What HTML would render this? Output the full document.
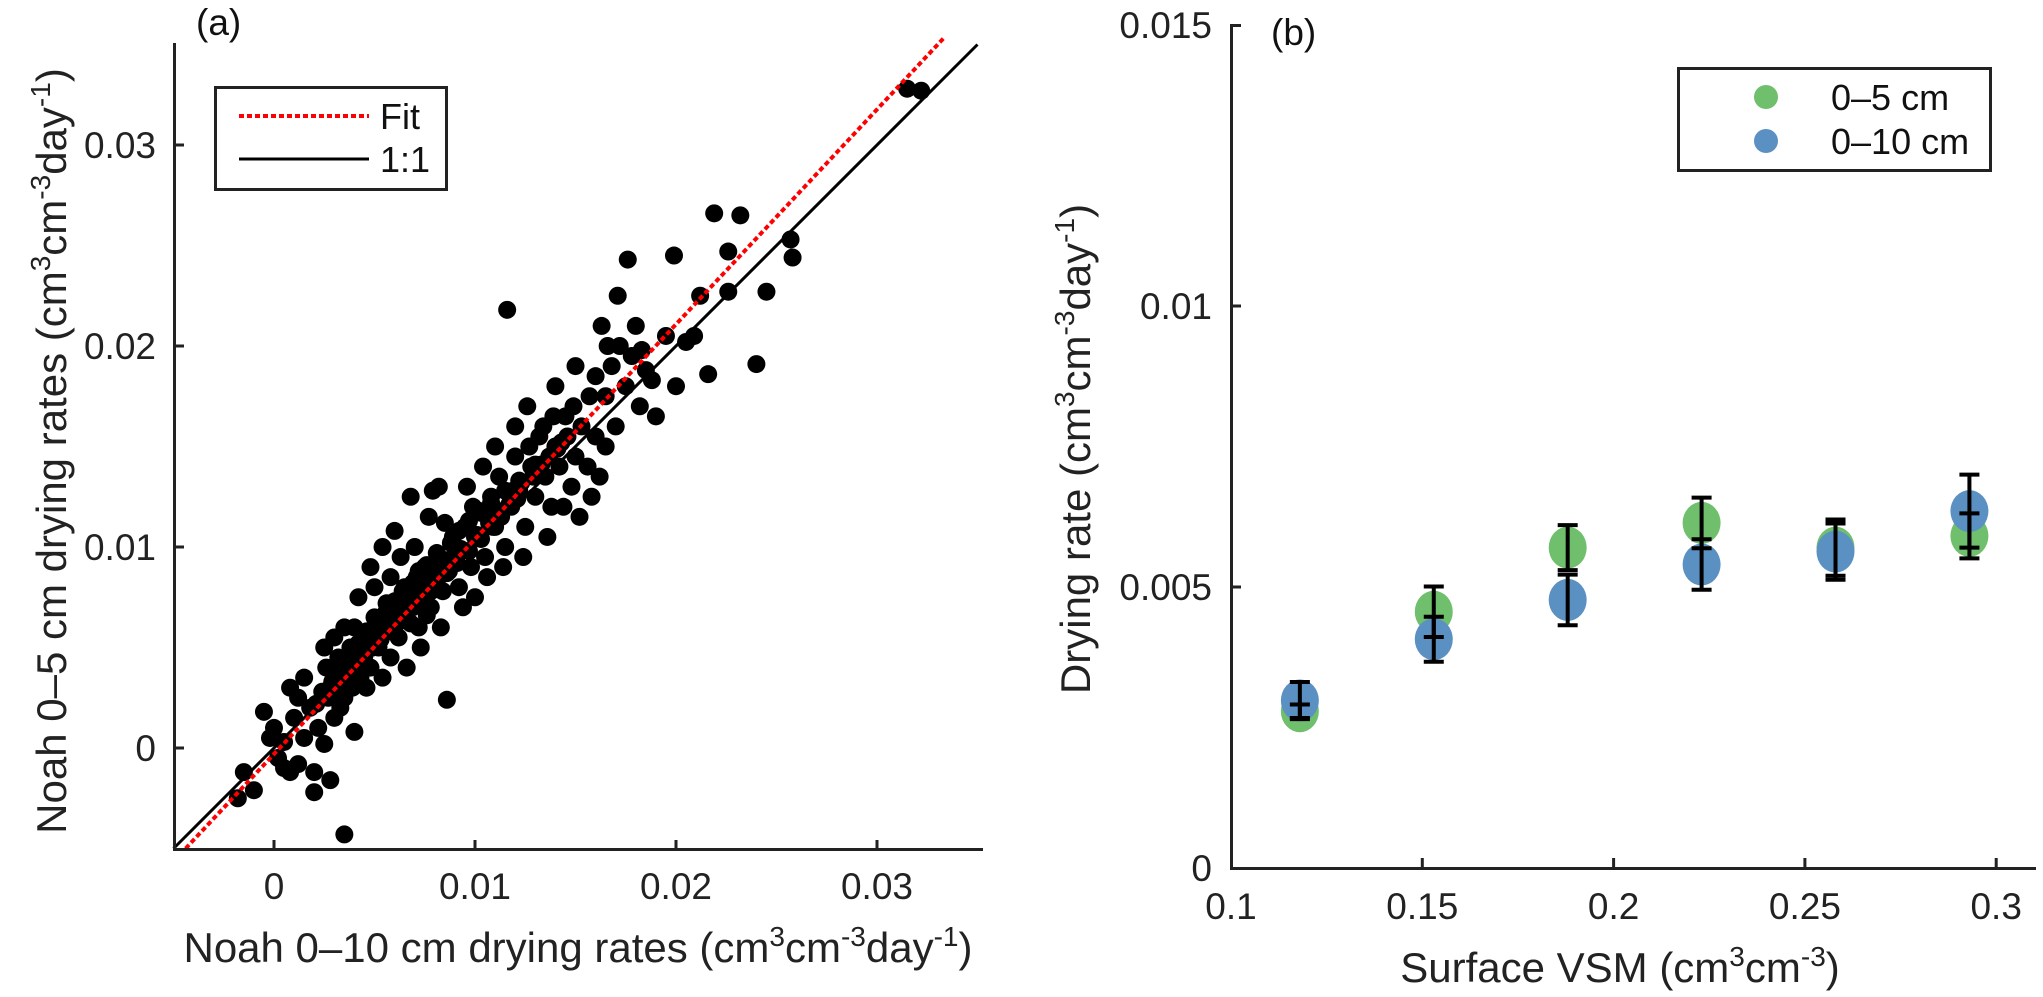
<!DOCTYPE html>
<html><head><meta charset="utf-8"><style>
html,body{margin:0;padding:0;background:#fff}
svg{display:block;font-family:"Liberation Sans",Arial,sans-serif}
</style></head><body>
<svg id="fig" width="2043" height="997" viewBox="0 0 2043 997"></svg>
<script>
// Panel (a) data: [x (0-10cm), y (0-5cm)]
const scatterX = [-0.0018,-0.0015,-0.0010,-0.0005,0.0000,0.0002,0.0005,0.0008,0.0010,0.0012,0.0015,0.0018,0.0020,0.0022,0.0025,0.0028,0.0030,0.0032,0.0035,0.0020,0.0028,0.0005,-0.0002,0.0012,0.0008,0.0015,0.0035,0.0038,0.0040,0.0043,
0.0045,0.0048,0.0050,0.0052,0.0055,0.0058,0.0060,0.0062,0.0065,0.0068,0.0070,0.0072,0.0075,0.0078,0.0080,0.0040,0.0042,0.0046,0.0054,0.0058,0.0063,0.0066,0.0070,0.0073,0.0077,0.0079,0.0083,0.0086,0.0030,0.0025,0.0035,0.0038,0.0044,0.0050,0.0056,0.0061,0.0067,0.0071,0.0074,0.0076,0.0082,0.0084,0.0087,0.0089,0.0054,0.0060,0.0068,0.0082,0.0085,0.0048,0.0039,0.0033,0.0026,
0.0090,0.0092,0.0095,0.0098,0.0100,0.0102,0.0105,0.0108,0.0110,0.0112,0.0115,0.0118,0.0120,0.0122,0.0125,0.0128,0.0130,0.0132,0.0135,0.0138,0.0140,0.0142,0.0145,0.0148,0.0150,0.0153,0.0156,0.0160,0.0096,0.0104,0.0110,0.0116,0.0120,0.0126,0.0134,0.0140,0.0146,0.0094,0.0100,0.0106,0.0114,0.0124,0.0136,0.0144,0.0152,0.0158,0.0162,0.0165,0.0099,0.0113,0.0127,0.0139,0.0149,0.0157,
0.0165,0.0168,0.0170,0.0172,0.0175,0.0176,0.0178,0.0180,0.0182,0.0185,0.0188,0.0190,0.0195,0.0199,0.0200,0.0205,0.0209,0.0212,0.0216,0.0219,0.0226,0.0226,0.0232,0.0240,0.0245,0.0257,0.0258,0.0315,0.0322,0.0160,0.0166,0.0150,0.0163,0.0171,0.0183,
0.0021,0.0024,0.0027,0.0029,0.0031,0.0034,0.0036,0.0037,0.0041,0.0043,0.0045,0.0047,0.0049,0.0051,0.0053,0.0055,0.0057,0.0059,0.0061,0.0063,0.0064,0.0066,0.0069,0.0071,0.0073,0.0075,0.0078,0.0080,0.0081,0.0083,0.0086,0.0088,0.0091,0.0093,0.0097,0.0101,0.0103,0.0107,0.0109,0.0111,0.0117,0.0119,0.0121,0.0123,0.0129,0.0131,0.0133,0.0137,0.0141,0.0143,
0.0032,0.0036,0.0042,0.0046,0.0052,0.0056,0.0060,0.0064,0.0069,0.0072,0.0076,0.0081,0.0088,0.0092,0.0097,0.0103,0.0108,0.0115,0.0122,0.0130];
const scatterY = [-0.0025,-0.0012,-0.0021,0.0018,0.0010,-0.0005,0.0003,-0.0012,0.0015,-0.0008,0.0005,0.0020,-0.0012,0.0010,0.0002,0.0030,0.0015,0.0045,-0.0043,-0.0022,-0.0016,-0.0010,0.0005,0.0025,0.0030,0.0035,0.0025,0.0040,0.0008,0.0035,
0.0055,0.0040,0.0065,0.0050,0.0060,0.0045,0.0070,0.0055,0.0080,0.0062,0.0075,0.0060,0.0090,0.0070,0.0085,0.0060,0.0075,0.0030,0.0035,0.0085,0.0095,0.0040,0.0100,0.0050,0.0115,0.0128,0.0060,0.0024,0.0055,0.0050,0.0060,0.0050,0.0048,0.0080,0.0072,0.0064,0.0071,0.0085,0.0078,0.0066,0.0095,0.0078,0.0088,0.0105,0.0100,0.0108,0.0125,0.0130,0.0112,0.0090,0.0030,0.0020,0.0040,
0.0095,0.0080,0.0110,0.0090,0.0105,0.0118,0.0095,0.0125,0.0110,0.0135,0.0100,0.0120,0.0145,0.0128,0.0110,0.0140,0.0125,0.0155,0.0135,0.0120,0.0150,0.0140,0.0165,0.0130,0.0145,0.0160,0.0140,0.0155,0.0130,0.0140,0.0150,0.0218,0.0160,0.0170,0.0160,0.0180,0.0155,0.0070,0.0075,0.0085,0.0090,0.0095,0.0105,0.0120,0.0115,0.0125,0.0135,0.0150,0.0120,0.0115,0.0150,0.0165,0.0170,0.0175,
0.0175,0.0190,0.0160,0.0200,0.0180,0.0243,0.0195,0.0210,0.0170,0.0188,0.0183,0.0165,0.0205,0.0245,0.0180,0.0202,0.0205,0.0225,0.0186,0.0266,0.0247,0.0227,0.0265,0.0191,0.0227,0.0253,0.0244,0.0328,0.0327,0.0185,0.0200,0.0190,0.0210,0.0225,0.0198,
0.0022,0.0028,0.0025,0.0033,0.0030,0.0038,0.0035,0.0044,0.0042,0.0048,0.0046,0.0052,0.0050,0.0057,0.0054,0.0061,0.0058,0.0065,0.0062,0.0068,0.0066,0.0072,0.0070,0.0077,0.0074,0.0081,0.0078,0.0086,0.0083,0.0089,0.0087,0.0094,0.0092,0.0099,0.0098,0.0106,0.0104,0.0112,0.0110,0.0118,0.0121,0.0128,0.0124,0.0132,0.0135,0.0139,0.0141,0.0145,0.0149,0.0152,
0.0040,0.0045,0.0052,0.0058,0.0062,0.0068,0.0073,0.0078,0.0082,0.0088,0.0091,0.0097,0.0102,0.0108,0.0113,0.0117,0.0122,0.0128,0.0133,0.0141];
const fitSlope = 1.069;
const fitIntercept = -0.0003;
const aXTicks = [0, 0.01, 0.02, 0.03];
const aXTickLabels = ["0","0.01","0.02","0.03"];
const aYTicks = [0, 0.01, 0.02, 0.03];
const aYTickLabels = ["0","0.01","0.02","0.03"];

// Panel (b) data
const vsmX = [0.118, 0.153, 0.188, 0.223, 0.258, 0.293];
const rate05 = [0.00279, 0.00456, 0.00570, 0.00614, 0.00570, 0.00591];
const err05 = [0.00012, 0.00045, 0.00040, 0.00045, 0.00050, 0.00040];
const rate010 = [0.00298, 0.00407, 0.00477, 0.00540, 0.00563, 0.00635];
const err010 = [0.00033, 0.00040, 0.00045, 0.00045, 0.00050, 0.00065];
const bXTicks = [0.1, 0.15, 0.2, 0.25, 0.3];
const bXTickLabels = ["0.1","0.15","0.2","0.25","0.3"];
const bYTicks = [0, 0.005, 0.01, 0.015];
const bYTickLabels = ["0","0.005","0.01","0.015"];

const NS = "http://www.w3.org/2000/svg";
const svg = document.getElementById('fig');
function mk(tag, attrs, parent){ const e=document.createElementNS(NS,tag); for(const k in attrs) e.setAttribute(k,attrs[k]); (parent||svg).appendChild(e); return e; }

const ax = v => 274 + (v/0.005)*100.5;
const ay = v => 748 - (v/0.005)*100.5;
const bx = v => 1231 + (v-0.1)/0.05*191.3;
const by = v => 868 - v/0.015*843;

// ---- Panel a ----
const ga = mk('g',{});


const pts = mk('g',{fill:'#000'},ga);


for(let i=0;i<scatterX.length;i++){
  const c = mk('circle',{cx:ax(scatterX[i]),cy:ay(scatterY[i]),r:9},pts);
  
  
}
const l11 = mk('line',{x1:ax(-0.005),y1:ay(-0.005),x2:ax(0.035),y2:ay(0.035),stroke:'#000','stroke-width':3},ga);


const fx0 = (-0.005 - fitIntercept)/fitSlope, fx1 = (0.0353 - fitIntercept)/fitSlope;
const lf = mk('line',{x1:ax(fx0),y1:ay(fitSlope*fx0+fitIntercept),x2:ax(fx1),y2:ay(fitSlope*fx1+fitIntercept),stroke:'#f00','stroke-width':4,'stroke-dasharray':'5 3'},ga);


const axa = mk('path',{d:`M174.5 43 V849.5 H983`,fill:'none',stroke:'#222','stroke-width':3},ga);


aXTicks.forEach((t,i)=>{
  mk('line',{x1:ax(t),y1:849,x2:ax(t),y2:840,stroke:'#222','stroke-width':3},ga);
  const tx = mk('text',{x:ax(t),y:899,'font-size':37,'text-anchor':'middle',fill:'#222'},ga);
  tx.textContent = aXTickLabels[i];
  
  
});
aYTicks.forEach((t,i)=>{
  mk('line',{x1:175,y1:ay(t),x2:184,y2:ay(t),stroke:'#222','stroke-width':3},ga);
  const tx = mk('text',{x:156,y:ay(t)+13,'font-size':37,'text-anchor':'end',fill:'#222'},ga);
  tx.textContent = aYTickLabels[i];
  
  
});
</script>
<script>
(function(){
svg.insertAdjacentHTML('beforeend', `
<text x="196" y="35" font-size="37" fill="#111">(a)</text>
<g>
<rect x="215.5" y="87.5" width="231" height="102" fill="#fff" stroke="#222" stroke-width="3"/>
<line x1="239" y1="116" x2="369" y2="116" stroke="#f00" stroke-width="4" stroke-dasharray="5 3"/>
<text x="380" y="129" font-size="36" fill="#111">Fit</text>
<line x1="239" y1="159" x2="369" y2="159" stroke="#000" stroke-width="3"/>
<text x="380" y="172" font-size="36" fill="#111">1:1</text>
</g>
<text x="578" y="962" font-size="42" fill="#222" text-anchor="middle">Noah 0–10 cm drying rates (cm<tspan dy="-16" font-size="28">3</tspan><tspan dy="16">cm</tspan><tspan dy="-16" font-size="28">-3</tspan><tspan dy="16">day</tspan><tspan dy="-16" font-size="28">-1</tspan><tspan dy="16">)</tspan></text>
<text transform="translate(66,451) rotate(-90)" font-size="42" fill="#222" text-anchor="middle">Noah 0–5 cm drying rates (cm<tspan dy="-16" font-size="28">3</tspan><tspan dy="16">cm</tspan><tspan dy="-16" font-size="28">-3</tspan><tspan dy="16">day</tspan><tspan dy="-16" font-size="28">-1</tspan><tspan dy="16">)</tspan></text>
<text x="1271" y="45" font-size="37" fill="#111">(b)</text>
<text x="1620" y="982" font-size="42" fill="#222" text-anchor="middle">Surface VSM (cm<tspan dy="-16" font-size="28">3</tspan><tspan dy="16">cm</tspan><tspan dy="-16" font-size="28">-3</tspan><tspan dy="16">)</tspan></text>
<text transform="translate(1090,449) rotate(-90)" font-size="42" fill="#222" text-anchor="middle">Drying rate (cm<tspan dy="-16" font-size="28">3</tspan><tspan dy="16">cm</tspan><tspan dy="-16" font-size="28">-3</tspan><tspan dy="16">day</tspan><tspan dy="-16" font-size="28">-1</tspan><tspan dy="16">)</tspan></text>
`);
})();

// ---- Panel b ----
const gb = mk('g',{});


const axb = mk('path',{d:`M1241 25.5 H1231.5 V868.5 H2036`,fill:'none',stroke:'#222','stroke-width':3},gb);


bXTicks.forEach((t,i)=>{
  if(i>0) mk('line',{x1:bx(t),y1:868,x2:bx(t),y2:858,stroke:'#222','stroke-width':3},gb);
  const tx = mk('text',{x:bx(t),y:919,'font-size':37,'text-anchor':'middle',fill:'#222'},gb);
  tx.textContent = bXTickLabels[i];
  
  
});
bYTicks.forEach((t,i)=>{
  if(i>0 && i<bYTicks.length-1) mk('line',{x1:1232,y1:by(t),x2:1241,y2:by(t),stroke:'#222','stroke-width':3},gb);
  const tx = mk('text',{x:1212,y:by(t)+13,'font-size':37,'text-anchor':'end',fill:'#222'},gb);
  tx.textContent = bYTickLabels[i];
  
  
});
function series(vals, color, name){
  const g = mk('g',{},gb);
  
  
  vals.forEach((v,i)=>{
    const e = mk('ellipse',{cx:bx(vsmX[i]),cy:by(v),rx:19,ry:21,fill:color},g);
    
    
  });
}
function errbars(vals, errs, name){
  const g = mk('g',{stroke:'#000','stroke-width':4},gb);
  
  
  vals.forEach((v,i)=>{
    const x = bx(vsmX[i]), y1 = by(v-errs[i]), y2 = by(v+errs[i]);
    mk('line',{x1:x,y1:y1,x2:x,y2:y2},g);
    mk('line',{x1:x-10,y1:y1,x2:x+10,y2:y1},g);
    mk('line',{x1:x-10,y1:y2,x2:x+10,y2:y2},g);
  });
}
series(rate05, '#6fbf6c', 'series-0-5cm');
series(rate010, '#5b90c2', 'series-0-10cm');
errbars(rate05, err05, 'errorbars-0-5cm');
errbars(rate010, err010, 'errorbars-0-10cm');

svg.insertAdjacentHTML('beforeend', `
<g>
<rect x="1678.5" y="68.5" width="312" height="102" fill="#fff" stroke="#222" stroke-width="3"/>
<circle cx="1766" cy="97" r="12" fill="#6fbf6c"/>
<text x="1831" y="110" font-size="36" fill="#111">0–5 cm</text>
<circle cx="1766" cy="141" r="12" fill="#5b90c2"/>
<text x="1831" y="154" font-size="36" fill="#111">0–10 cm</text>
</g>`);
</script>
</body></html>
